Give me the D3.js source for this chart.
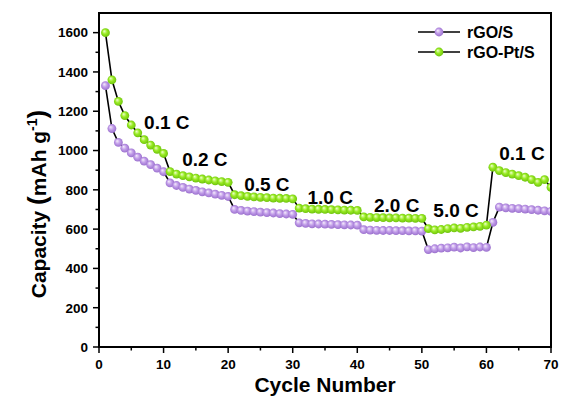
<!DOCTYPE html>
<html lang='en'>
	<head>
		<meta charset='utf-8'>
		<title>Rate capability</title>
		<script type='text/javascript' src='https://cdn.jsdelivr.net/npm/d3@7'></script>
		<style>
			body { margin: 0; background: #fff; }
			text { font-family: 'Liberation Sans', Arial, sans-serif; font-weight: bold; }
		</style>
	</head>
	<body>
	</body>
	<script type='text/javascript'>
	// data
	var cycles = d3.range(1, 71);
	var series_names = ['rGO/S', 'rGO-Pt/S'];
	var rgo_s = [
		1330, 1112, 1041, 1012, 988, 966, 946, 928, 910, 892,
		835, 822, 812, 804, 797, 790, 784, 778, 772, 766,
		700, 695, 692, 689, 686, 684, 682, 679, 677, 675,
		632, 629, 627, 626, 625, 624, 623, 622, 621, 620,
		597, 595, 594, 593, 593, 592, 592, 591, 591, 590,
		496, 500, 503, 505, 508, 504, 510, 506, 509, 507,
		634, 712, 708, 706, 704, 702, 699, 696, 693, 690];
	var rgo_pt_s = [
		1600, 1360, 1250, 1178, 1130, 1090, 1055, 1028, 1006, 985,
		893, 880, 872, 866, 860, 855, 850, 846, 842, 838,
		775, 770, 767, 764, 762, 760, 758, 757, 756, 754,
		707, 704, 702, 701, 700, 699, 698, 697, 696, 695,
		662, 660, 659, 658, 657, 657, 656, 656, 655, 655,
		602, 596, 598, 603, 606, 604, 609, 611, 614, 620,
		915, 898, 888, 880, 872, 864, 852, 838, 852, 812];
	var rate_labels = ['0.1 C', '0.2 C', '0.5 C', '1.0 C', '2.0 C', '5.0 C', '0.1 C'];
	var rate_label_at = [[10.5, 1110], [16.4, 922], [26, 795], [35.8, 730], [46.1, 688], [55.3, 664], [65.5, 950]];
	var x_ticks = [0, 10, 20, 30, 40, 50, 60, 70];
	var y_ticks = [0, 200, 400, 600, 800, 1000, 1200, 1400, 1600];

	var width = 568, height = 404;
	var plot_l = 99, plot_r = 551, plot_t = 13, plot_b = 347;

	var svg = d3.select('body').append('svg').attr('width', width).attr('height', height);

	var scale_x = d3.scaleLinear().domain([0, 70]).range([plot_l, plot_r]);
	var scale_y = d3.scaleLinear().domain([0, 1700]).range([plot_b, plot_t]);

	// ball gradients
	var defs = svg.append('defs');
	function ball(id, light, mid, dark) {
		var g = defs.append('radialGradient').attr('id', id)
			.attr('cx', '0.5').attr('cy', '0.5').attr('r', '0.6')
			.attr('fx', '0.35').attr('fy', '0.32');
		g.append('stop').attr('offset', '0%').attr('stop-color', light);
		g.append('stop').attr('offset', '45%').attr('stop-color', mid);
		g.append('stop').attr('offset', '100%').attr('stop-color', dark);
	}
	ball('purple', '#f6eefc', '#c09be8', '#9064c6');
	ball('green', '#f0ffd0', '#98ea22', '#62b808');

	var fills = ['url(#purple)', 'url(#green)'];
	var all_series = [rgo_s, rgo_pt_s];

	defs.append('clipPath').attr('id', 'clip').append('rect')
		.attr('x', plot_l).attr('y', plot_t).attr('width', plot_r - plot_l).attr('height', plot_b - plot_t);

	var plot = svg.append('g').attr('clip-path', 'url(#clip)');
	var line = d3.line().x((d, i) => scale_x(cycles[i])).y(d => scale_y(d));

	all_series.forEach(function(vals, k) {
		var g = plot.append('g');
		g.append('path').attr('d', line(vals))
			.attr('fill', 'none').attr('stroke', '#000').attr('stroke-width', 1.6);
		g.selectAll('circle').data(vals).enter().append('circle')
			.attr('cx', (d, i) => scale_x(cycles[i]))
			.attr('cy', d => scale_y(d))
			.attr('r', 4.4)
			.attr('fill', fills[k]);
	});

	// rate labels
	svg.selectAll('.rate').data(rate_labels).enter().append('text')
		.attr('class', 'rate')
		.attr('x', (d, i) => scale_x(rate_label_at[i][0]))
		.attr('y', (d, i) => scale_y(rate_label_at[i][1]))
		.attr('text-anchor', 'middle')
		.attr('font-size', '19px')
		.text(d => d);

	// frame
	svg.append('rect').attr('x', plot_l).attr('y', plot_t)
		.attr('width', plot_r - plot_l).attr('height', plot_b - plot_t)
		.attr('fill', 'none').attr('stroke', '#000').attr('stroke-width', 2);

	// x axis
	var x_axis = svg.append('g');
	x_axis.selectAll('.minor').data(d3.range(5, 70, 10)).enter().append('line')
		.attr('class', 'minor')
		.attr('x1', d => scale_x(d)).attr('x2', d => scale_x(d))
		.attr('y1', plot_b).attr('y2', plot_b + 3.5)
		.attr('stroke', '#000').attr('stroke-width', 1.5);
	x_axis.selectAll('.major').data(x_ticks).enter().append('line')
		.attr('class', 'major')
		.attr('x1', d => scale_x(d)).attr('x2', d => scale_x(d))
		.attr('y1', plot_b).attr('y2', plot_b + 6)
		.attr('stroke', '#000').attr('stroke-width', 1.5);
	x_axis.selectAll('text').data(x_ticks).enter().append('text')
		.attr('x', d => scale_x(d)).attr('y', 369)
		.attr('text-anchor', 'middle').attr('font-size', '13.5px')
		.text(d => d);

	// y axis
	var y_axis = svg.append('g');
	y_axis.selectAll('.minor').data(d3.range(100, 1700, 200)).enter().append('line')
		.attr('class', 'minor')
		.attr('x1', plot_l - 3.5).attr('x2', plot_l)
		.attr('y1', d => scale_y(d)).attr('y2', d => scale_y(d))
		.attr('stroke', '#000').attr('stroke-width', 1.5);
	y_axis.selectAll('.major').data(y_ticks).enter().append('line')
		.attr('class', 'major')
		.attr('x1', plot_l - 6).attr('x2', plot_l)
		.attr('y1', d => scale_y(d)).attr('y2', d => scale_y(d))
		.attr('stroke', '#000').attr('stroke-width', 1.5);
	y_axis.selectAll('text').data(y_ticks).enter().append('text')
		.attr('x', 88).attr('y', d => scale_y(d) + 4.8)
		.attr('text-anchor', 'end').attr('font-size', '13.5px')
		.text(d => d);

	// axis titles
	svg.append('text').attr('x', (plot_l + plot_r) / 2).attr('y', 392)
		.attr('text-anchor', 'middle').attr('font-size', '21px')
		.text('Cycle Number');

	var yt = svg.append('text')
		.attr('transform', 'translate(46,' + 204 + ') rotate(-90)')
		.attr('text-anchor', 'middle').attr('font-size', '21px');
	yt.append('tspan').text('Capacity ');
	yt.append('tspan').attr('font-size', '26px').text('(');
	yt.append('tspan').text('mAh g');
	yt.append('tspan').attr('font-size', '14px').attr('dy', -9).text('-1');
	yt.append('tspan').attr('font-size', '26px').attr('dy', 9).text(')');

	// legend
	var legend = svg.append('g');
	series_names.forEach(function(name, k) {
		var ly = 32 + k * 20;
		legend.append('line').attr('x1', 418).attr('x2', 460).attr('y1', ly).attr('y2', ly)
			.attr('stroke', '#000').attr('stroke-width', 1.6);
		legend.append('circle').attr('cx', 439).attr('cy', ly).attr('r', 4.4).attr('fill', fills[k]);
		legend.append('text').attr('x', 467).attr('y', ly + 6)
			.attr('font-size', '16px').text(name);
	});
	</script>
</html>
